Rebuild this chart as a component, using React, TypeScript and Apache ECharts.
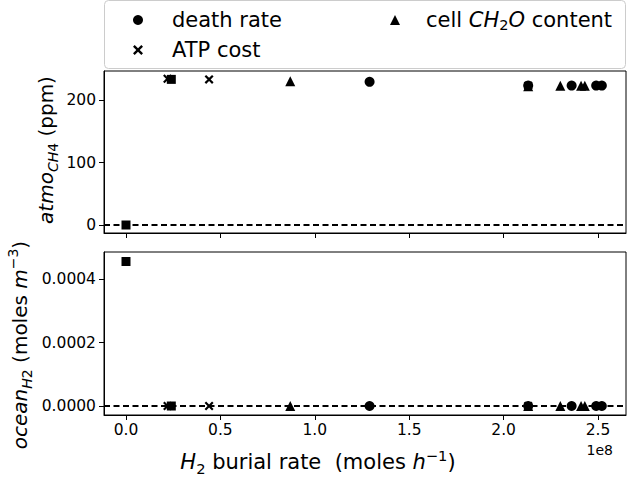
import React, { useEffect, useRef } from 'react';
import * as echarts from 'echarts';

const xTicks = [0, 0.5, 1, 1.5, 2, 2.5];
const topYTicks = [0, 100, 200];
const bottomYTicks = [0, 0.0002, 0.0004];

const deathX = [1.29, 2.13, 2.36, 2.49, 2.52];
const deathTop = [229, 223, 223, 223, 223];
const deathBottom = [0, 0, 0, 0, 0];

const atpX = [0.22, 0.44, 2.13];
const atpTop = [234, 233, 223];
const atpBottom = [0, 0, 0];

const cellX = [0.87, 2.13, 2.3, 2.41, 2.43];
const cellTop = [230, 222, 223, 223, 223];
const cellBottom = [0, 0, 0, 0, 0];

const baseX = [0, 0.24];
const baseTop = [0, 233];
const baseBottom = [0.000455, 0];

const FONT = 'DejaVu Sans';
const X_PATH =
  'path://M0,1.7L1.7,0L5,3.3L8.3,0L10,1.7L6.7,5L10,8.3L8.3,10L5,6.7L1.7,10L0,8.3L3.3,5Z';

const zip = (xs: number[], ys: number[]) => xs.map((x, i) => [x, ys[i]]);

const richBase = (size: number) => ({
  n: { fontFamily: FONT, fontSize: size, lineHeight: 28, fill: '#000', color: '#000' },
  i: { fontFamily: FONT, fontSize: size, fontStyle: 'italic', lineHeight: 28, fill: '#000', color: '#000' },
  s: { fontFamily: FONT, fontSize: size * 0.7, fontStyle: 'italic', lineHeight: 14, verticalAlign: 'bottom', fill: '#000', color: '#000' },
  ss: { fontFamily: FONT, fontSize: size * 0.7, lineHeight: 14, verticalAlign: 'bottom', fill: '#000', color: '#000' },
  sup: { fontFamily: FONT, fontSize: size * 0.7, lineHeight: 17, verticalAlign: 'top', fill: '#000', color: '#000' },
});

export default function App() {
  const ref = useRef<HTMLDivElement>(null);
  useEffect(() => {
    if (!ref.current) return;
    const chart = echarts.init(ref.current, undefined, { renderer: 'svg' });

    const xMin = -0.1165;
    const xMax = 2.648;
    const topMin = -12.8;
    const topMax = 246.4;
    const botMin = -0.0000283;
    const botMax = 0.000485;

    const axisLine = { show: true, onZero: false, lineStyle: { color: '#000', width: 1 } };
    const tickLabel = { color: '#000', fontFamily: FONT, fontSize: 15.5 };

    const zeroLine = {
      silent: true,
      symbol: ['none', 'none'],
      label: { show: false },
      lineStyle: { color: '#000', type: [6, 3.5], width: 2 },
      data: [{ yAxis: 0 }],
      z: 1,
    };

    const scatter = (
      name: string,
      idx: number,
      data: number[][],
      symbol: string,
      size: number,
      extra: any = {}
    ) => ({
      type: 'scatter',
      name,
      xAxisIndex: idx,
      yAxisIndex: idx,
      data,
      symbol,
      symbolSize: size,
      itemStyle: { color: '#000', opacity: 1 },
      z: 3,
      ...extra,
    });

    const LS = 21;
    const legendRich = {
      n: { fontFamily: FONT, fontSize: LS, color: '#000', padding: [0, 0, 0, 24] },
      n0: { fontFamily: FONT, fontSize: LS, color: '#000', padding: [0, 0, 0, 21] },
      n2: { fontFamily: FONT, fontSize: LS, color: '#000' },
      i: { fontFamily: FONT, fontSize: LS, fontStyle: 'italic', color: '#000' },
      s: { fontFamily: FONT, fontSize: 14.5, color: '#000', verticalAlign: 'bottom', lineHeight: 14 },
    };

    const legendFormatter = (name: string) =>
      name === 'cell CH2O content'
        ? '{n0|cell }{i|CH}{s|2}{i|O}{n2| content}'
        : '{n|' + name + '}';

    chart.setOption({
      animation: false,
      backgroundColor: '#fff',
      grid: [
        { left: 104, top: 71, width: 522, height: 162, show: true, borderColor: '#000', borderWidth: 1, backgroundColor: 'transparent' },
        { left: 104, top: 252, width: 522, height: 163, show: true, borderColor: '#000', borderWidth: 1, backgroundColor: 'transparent' },
      ],
      xAxis: [0, 1].map((idx) => ({
        type: 'value',
        gridIndex: idx,
        min: xMin,
        max: xMax,
        axisLine,
        splitLine: { show: false },
        axisTick: { show: true, length: 5, lineStyle: { color: '#000' }, customValues: xTicks },
        axisLabel: {
          show: idx === 1,
          ...tickLabel,
          margin: 7,
          customValues: xTicks,
          formatter: (v: number) => v.toFixed(1),
        },
      })),
      yAxis: [
        {
          type: 'value',
          gridIndex: 0,
          min: topMin,
          max: topMax,
          axisLine,
          splitLine: { show: false },
          axisTick: { show: true, length: 5, lineStyle: { color: '#000' }, customValues: topYTicks },
          axisLabel: { ...tickLabel, margin: 8, customValues: topYTicks, formatter: (v: number) => String(v) },
        },
        {
          type: 'value',
          gridIndex: 1,
          min: botMin,
          max: botMax,
          axisLine,
          splitLine: { show: false },
          axisTick: { show: true, length: 5, lineStyle: { color: '#000' }, customValues: bottomYTicks },
          axisLabel: { ...tickLabel, margin: 8, customValues: bottomYTicks, formatter: (v: number) => v.toFixed(4) },
        },
      ],
      legend: [
        {
          left: 128,
          top: 3,
          orient: 'vertical',
          itemWidth: 10,
          itemHeight: 10,
          itemGap: 6,
          selectedMode: false,
          data: [
            { name: 'death rate', icon: 'circle', itemStyle: { color: '#000' } },
            { name: 'ATP cost', icon: X_PATH, itemStyle: { color: '#000' } },
          ],
          formatter: legendFormatter,
          textStyle: { fontFamily: FONT, fontSize: LS, color: '#000', lineHeight: 24, rich: legendRich },
        },
        {
          left: 385,
          top: 3,
          orient: 'vertical',
          itemWidth: 10,
          itemHeight: 10,
          selectedMode: false,
          data: [{ name: 'cell CH2O content', icon: 'triangle', itemStyle: { color: '#000' } }],
          formatter: legendFormatter,
          textStyle: { fontFamily: FONT, fontSize: LS, color: '#000', lineHeight: 24, rich: legendRich },
        },
      ],
      graphic: [
        {
          type: 'rect',
          z: -1,
          shape: { x: 104.5, y: 0.5, width: 521, height: 68, r: 4 },
          style: { fill: '#fff', stroke: '#cccccc', lineWidth: 1 },
        },
        {
          type: 'text',
          x: 46,
          y: 150,
          rotation: Math.PI / 2,
          style: {
            text: '{i|atmo}{s|CH}{ss|4}{n| (ppm)}',
            rich: richBase(20),
            align: 'center',
            verticalAlign: 'middle',
          },
        },
        {
          type: 'text',
          x: 20,
          y: 345,
          rotation: Math.PI / 2,
          style: {
            text: '{i|ocean}{s|H}{ss|2}{n| (moles }{i|m}{sup|−3}{n|)}',
            rich: richBase(20),
            align: 'center',
            verticalAlign: 'middle',
          },
        },
        {
          type: 'text',
          x: 318,
          y: 462,
          style: {
            text: '{i|H}{ss|2}{n| burial rate  (moles }{i|h}{sup|−1}{n|)}',
            rich: richBase(21),
            align: 'center',
            verticalAlign: 'middle',
          },
        },
        {
          type: 'text',
          x: 613,
          y: 450,
          style: {
            text: '1e8',
            fontFamily: FONT,
            fontSize: 14,
            fill: '#000',
            align: 'right',
            verticalAlign: 'middle',
          },
        },
      ],
      series: [
        scatter('', 0, zip(baseX, baseTop), 'rect', 9, { markLine: zeroLine }),
        scatter('', 1, zip(baseX, baseBottom), 'rect', 9, { markLine: zeroLine }),
        scatter('cell CH2O content', 0, zip(cellX, cellTop), 'triangle', 10),
        scatter('cell CH2O content', 1, zip(cellX, cellBottom), 'triangle', 10),
        scatter('ATP cost', 0, zip(atpX, atpTop), X_PATH, 9),
        scatter('ATP cost', 1, zip(atpX, atpBottom), X_PATH, 9),
        scatter('death rate', 0, zip(deathX, deathTop), 'circle', 10),
        scatter('death rate', 1, zip(deathX, deathBottom), 'circle', 10),
      ],
    });
    return () => chart.dispose();
  }, []);

  return (
    <div
      ref={ref}
      style={{ position: 'fixed', left: 0, top: 0, width: 627, height: 479, background: '#fff' }}
    />
  );
}
